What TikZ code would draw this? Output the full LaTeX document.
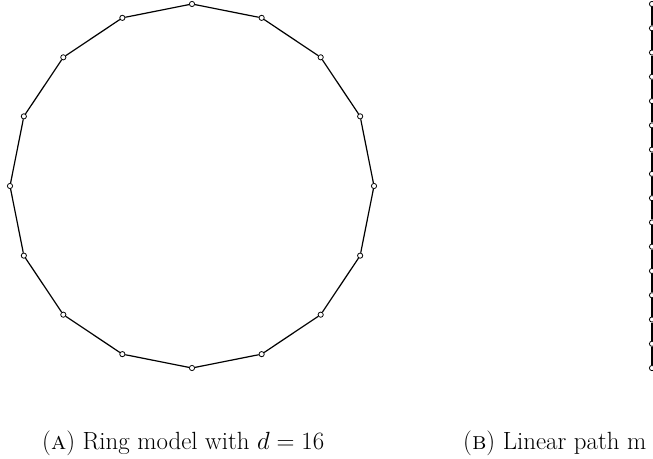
\documentclass[tikz,border=0pt]{standalone}
\usepackage{amsmath}
\begin{document}
\begin{tikzpicture}[x=1pt,y=1pt,
  vtx/.style={circle,draw,fill=white,inner sep=0pt,minimum size=5.2pt,line width=0.8pt},
  edge/.style={line width=1.2pt},
  captext/.style={anchor=base west,inner sep=0pt,font=\fontsize{24.88}{30}\selectfont}]
\clip (0,0) rectangle (653,458);
\useasboundingbox (0,0) rectangle (653,458);
% ring
\foreach \i in {0,...,15} {
  \node[vtx] (r\i) at ({192+182*cos(90-22.5*\i)},{272+182*sin(90-22.5*\i)}) {};
}
\foreach \i [evaluate=\i as \j using {int(mod(\i+1,16))}] in {0,...,15} {
  \draw[edge] (r\i) -- (r\j);
}
% linear path
\foreach \i in {0,...,15} {
  \node[vtx] (l\i) at (652,{454-24.27*\i}) {};
}
\foreach \i [evaluate=\i as \j using {int(\i+1)}] in {0,...,14} {
  \draw[edge] (l\i) -- (l\j);
}
\node[captext] (capa) at (42,9) {(\textsc{a}) Ring model with $d=16$};
\node[captext] (capb) at (463,9) {(\textsc{b}) Linear path m};
\end{tikzpicture}
\end{document}
